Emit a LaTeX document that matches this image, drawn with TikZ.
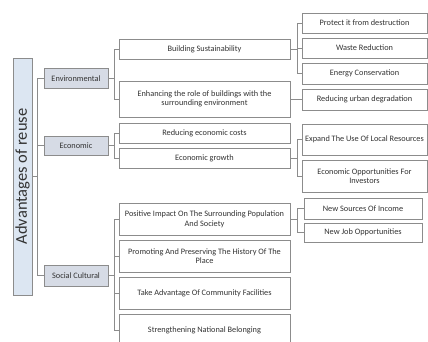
\documentclass[tikz,border=0pt]{standalone}
\usepackage{fontspec}
\setmainfont{Carlito}
\definecolor{rootfill}{HTML}{DCE6F2}
\definecolor{catfill}{HTML}{D6DBE5}
\definecolor{linegray}{HTML}{8C8C8C}
\definecolor{textgray}{HTML}{333333}
\begin{document}
\begin{tikzpicture}[x=1pt,y=-1pt,
    every node/.style={font=\fontsize{8.3}{9.6}\selectfont, text=textgray, inner xsep=1pt, inner ysep=0pt, align=center},
    rootbox/.style={draw=linegray, fill=rootfill, rotate=90, minimum width=237pt, minimum height=19pt, font=\fontsize{16.5}{19}\selectfont},
    catbox/.style={draw=linegray, line width=0.8pt, fill=catfill, minimum width=64pt},
    itembox/.style={draw=linegray, line width=0.8pt, fill=white, minimum width=171pt},
    subbox/.style={draw=linegray, line width=0.8pt, fill=white, minimum width=125pt},
    smallbox/.style={draw=linegray, line width=0.8pt, fill=white, minimum width=118pt},
    link/.style={draw=linegray, line width=0.8pt}]
    \useasboundingbox (0,0) rectangle (428,341);
    % root
    \node [rootbox] (root) at (22.5,176.5) {Advantages of reuse};
    % categories
    \node [catbox, minimum height=20pt] (env) at (76,78.5) {Environmental};
    \node [catbox, minimum height=19pt] (eco) at (76,145.5) {Economic};
    \node [catbox, minimum height=21pt] (soc) at (76,275.5) {Social Cultural};
    % second level
    \node [itembox, minimum height=20pt] (bs) at (204.5,49) {Building Sustainability};
    \node [itembox, minimum height=36pt] (enh) at (204.5,99) {Enhancing the role of buildings with the\\surrounding environment};
    \node [itembox, minimum height=20pt] (rec) at (204.5,133) {Reducing economic costs};
    \node [itembox, minimum height=20pt] (eg) at (204.5,158) {Economic growth};
    \node [itembox, minimum height=32pt] (pos) at (204.5,219) {Positive Impact On The Surrounding Population\\And Society};
    \node [itembox, minimum height=32pt] (prom) at (204.5,256) {Promoting And Preserving The History Of The\\Place};
    \node [itembox, minimum height=32pt] (take) at (204.5,293) {Take Advantage Of Community Facilities};
    \node [itembox, minimum height=32pt] (str) at (204.5,330) {Strengthening National Belonging};
    % third level
    \node [subbox, minimum height=20pt] (prot) at (364.5,23) {Protect it from destruction};
    \node [subbox, minimum height=20pt] (waste) at (364.5,48) {Waste Reduction};
    \node [subbox, minimum height=21pt] (energy) at (364.5,73.5) {Energy Conservation};
    \node [subbox, minimum height=21pt] (urban) at (364.5,99.5) {Reducing urban degradation};
    \node [subbox, minimum height=31pt] (expand) at (364.5,139.5) {Expand The Use Of Local Resources};
    \node [subbox, minimum height=32pt] (ecoopp) at (364.5,176) {Economic Opportunities For\\Investors};
    \node [smallbox, minimum height=21pt] (nsrc) at (363,208.5) {New Sources Of Income};
    \node [smallbox, minimum height=19pt] (njob) at (363,232.5) {New Job Opportunities};
    % connectors
    \draw [link] (root.south) -- ++(5,0) |- (env.west);
    \draw [link] (root.south) -- ++(5,0) |- (eco.west);
    \draw [link] (root.south) -- ++(5,0) |- (soc.west);
    \draw [link] (env.east) -- ++(6,0) |- (bs.west);
    \draw [link] (env.east) -- ++(6,0) |- (enh.west);
    \draw [link] (eco.east) -- ++(6,0) |- (rec.west);
    \draw [link] (eco.east) -- ++(6,0) |- (eg.west);
    \draw [link] (soc.east) -- ++(6,0) |- (pos.west);
    \draw [link] (soc.east) -- ++(6,0) |- (prom.west);
    \draw [link] (soc.east) -- ++(6,0) |- (take.west);
    \draw [link] (soc.east) -- ++(6,0) |- (str.west);
    \draw [link] (bs.east) -- ++(7,0) |- (prot.west);
    \draw [link] (bs.east) -- ++(7,0) |- (waste.west);
    \draw [link] (bs.east) -- ++(7,0) |- (energy.west);
    \draw [link] (enh.east) -- ++(7,0) |- (urban.west);
    \draw [link] (eg.east) -- ++(7,0) |- (expand.west);
    \draw [link] (eg.east) -- ++(7,0) |- (ecoopp.west);
    \draw [link] (pos.east) -- ++(7,0) |- (nsrc.west);
    \draw [link] (pos.east) -- ++(7,0) |- (njob.west);
\end{tikzpicture}
\end{document}
